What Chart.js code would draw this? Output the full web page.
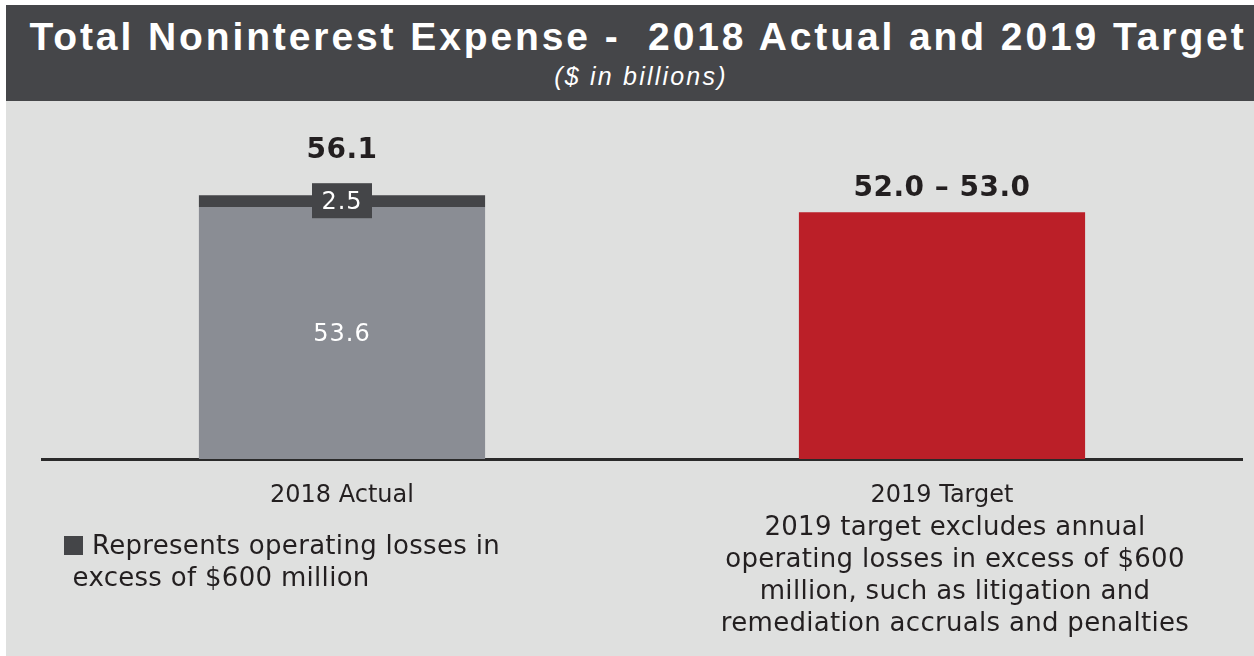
<!DOCTYPE html>
<html>
<head>
<meta charset="utf-8">
<script src="https://cdn.jsdelivr.net/npm/chart.js@4"></script>
<style>
  body { margin: 0; background: #ffffff; }
  #wrap { position: relative; width: 1254px; height: 656px; overflow: hidden; }
  #header { position: absolute; left: 6px; top: 5px; width: 1248px; height: 96px; background: #454649; }
  #panel { position: absolute; left: 6px; top: 101px; width: 1248px; height: 555px; background: #dfe0df; }
  #title { position: absolute; left: 0; top: 15px; width: 1276px; text-align: center; color: #ffffff;
           font: bold 39px "Liberation Sans", Arial, sans-serif; letter-spacing: 2.9px; white-space: nowrap; }
  #subtitle { position: absolute; left: 6px; top: 62px; width: 1270px; text-align: center; color: #ffffff;
              font: italic 25px "Liberation Sans", Arial, sans-serif; letter-spacing: 2.2px; }
  canvas { position: absolute; left: 0; top: 0; }
  .note { position: absolute; color: #231f20; font: 26px "DejaVu Sans", sans-serif; line-height: 32px; letter-spacing: 0.3px; white-space: nowrap; }
  #noteLeft { left: 64px; top: 529px; width: 480px; }
  #noteLeft .sw { display: inline-block; width: 19px; height: 19px; background: #444548; margin-right: 9px; vertical-align: -1px; }
  #noteRight { left: 680px; top: 510px; width: 550px; text-align: center; }
</style>
</head>
<body>
<div id="wrap">
  <div id="header"></div>
  <div id="panel"></div>
  <div id="title">Total Noninterest Expense -&nbsp; 2018 Actual and 2019 Target</div>
  <div id="subtitle">($ in billions)</div>
  <canvas id="grafico" width="1254" height="656"></canvas>
  <div class="note" id="noteLeft"><span class="sw"></span>Represents operating losses in<br>&nbsp;excess of $600 million</div>
  <div class="note" id="noteRight">2019 target excludes annual<br>operating losses in excess of $600<br>million, such as litigation and<br>remediation accruals and penalties</div>
</div>
<script>
// categorias y valores ($ en miles de millones)
var categorias = ['2018 Actual', '2019 Target'];
var gastoBase = [53.6, null];      // 2018 sin perdidas operativas extra
var perdidasExtra = [2.5, null];   // perdidas operativas > $600 millones
var metaBaja = 52.0;
var metaAlta = 53.0;
var meta = [null, (metaBaja + metaAlta) / 2];

var colorBase = '#8a8d94';
var colorExtra = '#444548';
var colorMeta = '#bb1f28';
var colorTexto = '#231f20';

// etiquetas de valor dibujadas sobre las barras
var etiquetas = {
    id: 'etiquetas',
    afterDatasetsDraw: function (chart) {
        var ctx = chart.ctx;
        var base = chart.getDatasetMeta(0).data[0];
        var extra = chart.getDatasetMeta(1).data[0];
        var target = chart.getDatasetMeta(2).data[1];
        ctx.save();
        ctx.textAlign = 'center';
        ctx.textBaseline = 'middle';
        ctx.letterSpacing = '1px';

        // valor de la parte gris
        ctx.fillStyle = '#ffffff';
        ctx.font = '24px "DejaVu Sans", sans-serif';
        ctx.fillText(gastoBase[0].toFixed(1), base.x, (base.y + base.base) / 2 + 2);

        // caja oscura con las perdidas extra
        var yExtra = (extra.y + extra.base) / 2;
        ctx.fillStyle = colorExtra;
        ctx.fillRect(extra.x - 30, yExtra - 18, 60, 35);
        ctx.fillStyle = '#ffffff';
        ctx.fillText(perdidasExtra[0].toFixed(1), extra.x, yExtra + 2);

        // total 2018
        var total = gastoBase[0] + perdidasExtra[0];
        ctx.fillStyle = colorTexto;
        ctx.font = 'bold 28px "DejaVu Sans", sans-serif';
        ctx.letterSpacing = '0.5px';
        ctx.fillText(total.toFixed(1), extra.x, extra.y - 45);

        // rango de la meta 2019
        ctx.fillText(metaBaja.toFixed(1) + ' \u2013 ' + metaAlta.toFixed(1), target.x, target.y - 24);
        ctx.restore();
    }
};

var ctx = document.getElementById('grafico').getContext('2d');
var grafico = new Chart(ctx, {
    type: 'bar',
    data: {
        labels: categorias,
        datasets: [
            { label: 'Base', data: gastoBase, backgroundColor: colorBase },
            { label: 'Perdidas', data: perdidasExtra, backgroundColor: colorExtra },
            { label: 'Meta', data: meta, backgroundColor: colorMeta }
        ]
    },
    options: {
        responsive: false,
        animation: false,
        events: [],
        layout: { padding: { left: 42, right: 12, top: 130, bottom: 0 } },
        datasets: { bar: { categoryPercentage: 1, barPercentage: 0.477, grouped: false } },
        plugins: { legend: { display: false }, tooltip: { enabled: false }, title: { display: false } },
        scales: {
            x: {
                stacked: true,
                grid: { display: false },
                border: { display: true, color: '#2a2a2a', width: 3 },
                ticks: { color: colorTexto, font: { family: 'DejaVu Sans', size: 24 }, padding: 14 },
                afterFit: function (scale) { scale.height = 197; }
            },
            y: {
                stacked: true,
                display: false,
                min: 0,
                max: 70
            }
        }
    },
    plugins: [etiquetas]
});
</script>
</body>
</html>
